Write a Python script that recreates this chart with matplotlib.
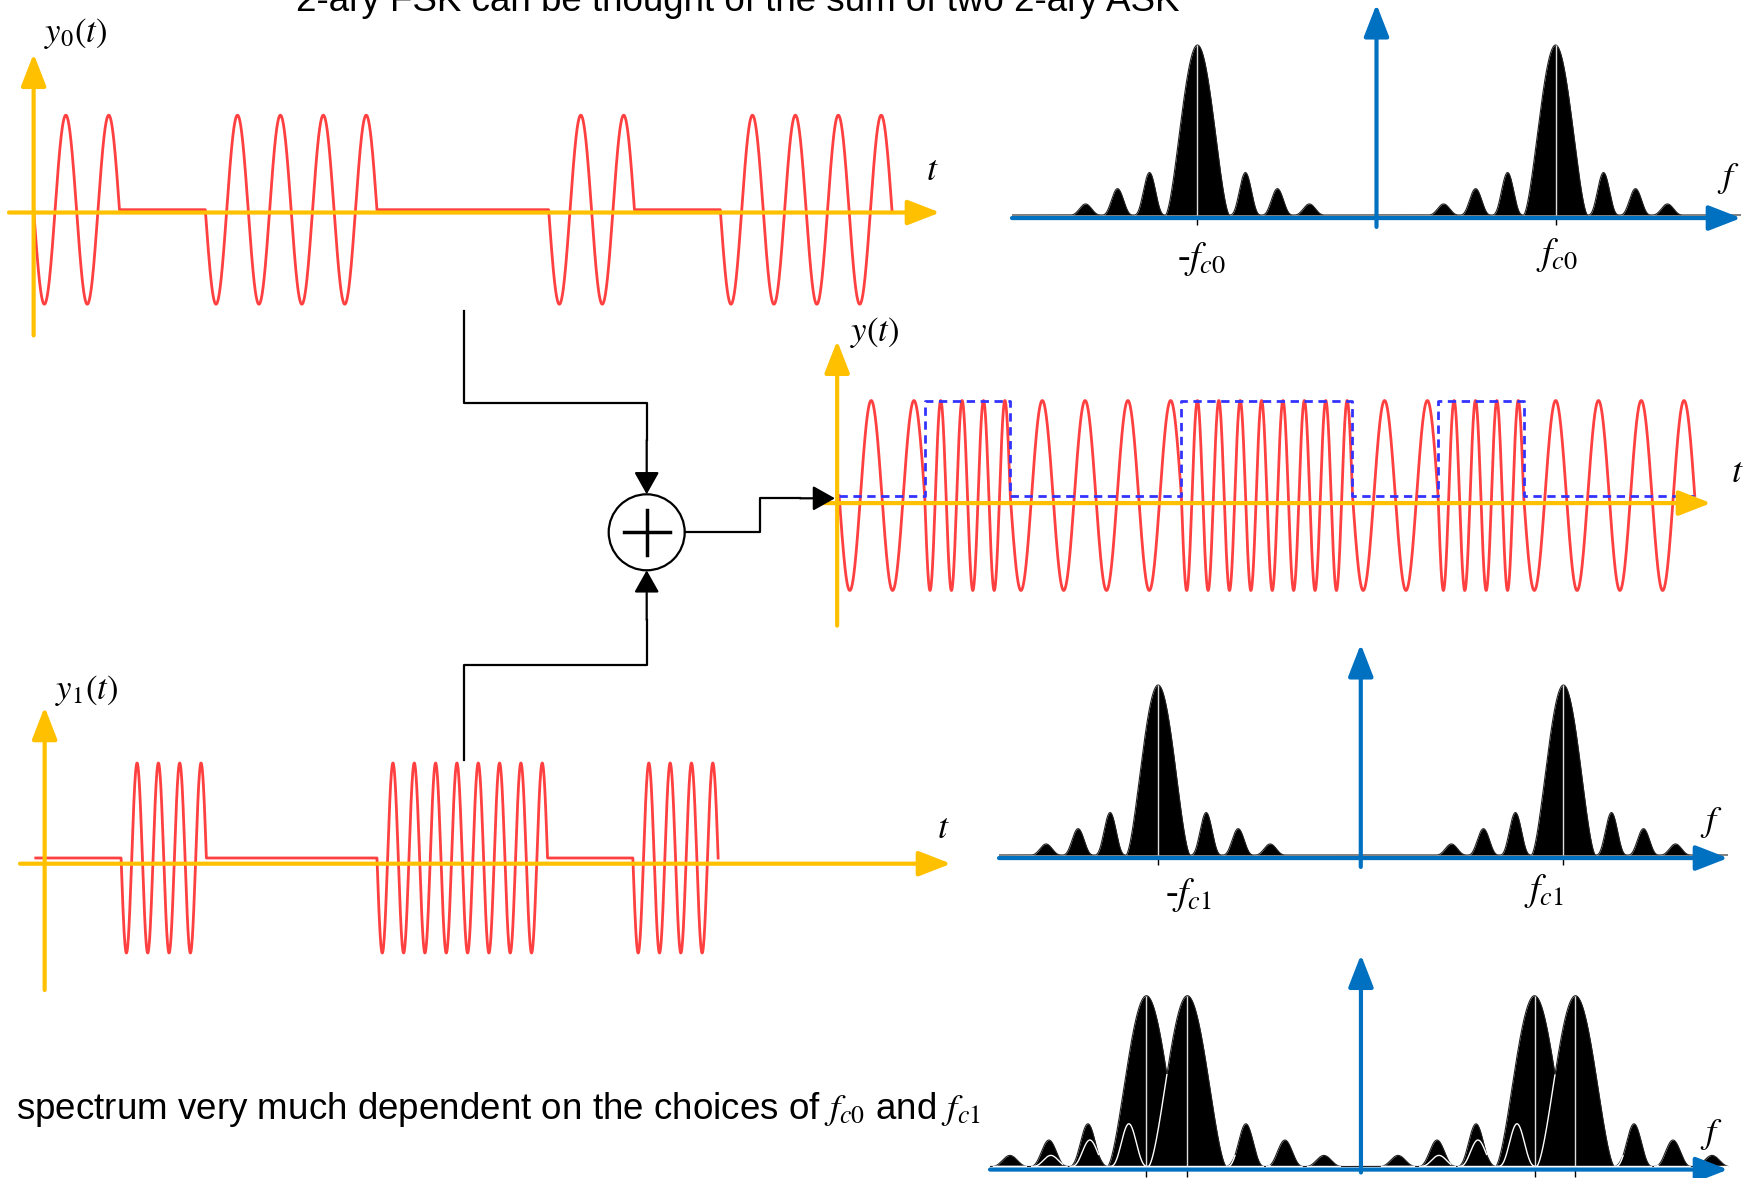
import numpy as np
import matplotlib
matplotlib.use('Agg')
import matplotlib.pyplot as plt
from matplotlib.patches import Circle

plt.rcParams['mathtext.fontset'] = 'stix'

W, H = 1754, 1178

# --- values ---
bits = [0, 1, 0, 0, 1, 1, 0, 1, 0, 0]        # data bits (blue dashed envelope of y(t))
cycles_f0 = 2                                # carrier cycles per bit at f_c0
cycles_f1 = 4                                # carrier cycles per bit at f_c1
lobe_heights = [1.0, 0.25, 0.155, 0.065]     # main lobe, then side lobes 1..3
fc_top = 5.6                                 # f_c0, in units of the bit rate
fc_mid = 6.33                                # f_c1
fc_bottom = [4.45, 5.5]                      # f_c0, f_c1 in the bottom (wider scale) plot

ORANGE = '#FFC000'
BLUE = '#0070C0'
RED = '#FF4040'
ENV = '#3333FF'
SANS = 'Liberation Sans'

fig = plt.figure(figsize=(W / 100, H / 100), dpi=100)


def px_text(x, y, s, **kw):
    fig.text(x / W, 1 - y / H, s, **kw)


def panel(box, xlim, ylim):
    l, t, r, b = box
    ax = fig.add_axes([l / W, 1 - b / H, (r - l) / W, (b - t) / H])
    ax.set_xlim(*xlim)
    ax.set_ylim(*ylim)
    ax.axis('off')
    return ax


def axis_arrows(ax, hx, hy, vx, vy, color):
    style = '-|>,head_length=0.9,head_width=0.35'
    for tip, tail in [((hx[1], hy), (hx[0], hy)), ((vx, vy[1]), (vx, vy[0]))]:
        ax.annotate('', xy=tip, xytext=tail, annotation_clip=False,
                    arrowprops=dict(arrowstyle=style, color=color, lw=3,
                                    mutation_scale=22, shrinkA=0, shrinkB=0),
                    zorder=5)


def spectrum(f, centers):
    s = np.zeros_like(f)
    for c in centers:
        u = f - c
        m = np.abs(u) < 1
        s[m] = np.maximum(s[m], lobe_heights[0] * np.cos(np.pi * u[m] / 2) ** 1.6)
        for k, h in enumerate(lobe_heights[1:], start=1):
            for sgn in (-1, 1):
                v = (u - sgn * (k + 0.5)) * 2
                m = np.abs(v) < 1
                s[m] = np.maximum(s[m], h * np.cos(np.pi * v[m] / 2) ** 3)
    return s


# --- time signals ---
n = len(bits)
t = np.linspace(0, n, n * 400 + 1)
b = np.array(bits)[np.minimum(t.astype(int), n - 1)]
y0 = np.where(b == 0, -np.sin(2 * np.pi * cycles_f0 * t), 0.0)
y1 = np.where(b == 1, -np.sin(2 * np.pi * cycles_f1 * t), 0.0)
y = y0 + y1
end0 = max(i for i, v in enumerate(bits) if v == 0) + 1
end1 = max(i for i, v in enumerate(bits) if v == 1) + 1

# y0(t)
ax = panel((9, 49, 940, 337.3), (-0.287, 10.56), (-1.35, 1.7))
m = t <= end0
ax.plot(t[m], y0[m], color=RED, lw=2)
axis_arrows(ax, (-0.287, 10.56), -0.03, 0, (-1.33, 1.65), ORANGE)

# y1(t)
ax = panel((20, 704.1, 951, 991), (-0.185, 10.73), (-1.4, 1.62))
m = t <= end1
ax.plot(t[m], y1[m], color=RED, lw=2)
axis_arrows(ax, (-0.185, 10.73), -0.06, 0.104, (-1.39, 1.59), ORANGE)

# y(t) with bit envelope
ax = panel((822, 338.75, 1711, 628.5), (-0.2, 10.19), (-1.4, 1.65))
ax.plot(t, y, color=RED, lw=2)
ax.step(np.arange(n + 1), bits + [bits[-1]], where='post', color=ENV,
        lw=2, ls=(0, (3, 2)), zorder=3)
axis_arrows(ax, (-0.2, 10.19), -0.08, -0.023, (-1.37, 1.63), ORANGE)


# --- spectra ---
def spec_panel(box, xlim, ylim, centers, white_centers=()):
    ax = panel(box, xlim, ylim)
    f = np.linspace(xlim[0], xlim[1], 6001)
    s = spectrum(f, centers)
    ax.fill_between(f, 0, s, color='black', lw=0, zorder=2)
    ax.plot(f, s, color='#222222', lw=0.8, zorder=2)
    for wc in white_centers:
        sw = spectrum(f, [wc])
        ax.plot(f, np.where(sw < s - 1e-3, sw, np.nan), color='white', lw=1, zorder=3)
    ax.vlines(centers, 0, lobe_heights[0], color='#dddddd', lw=1, zorder=3)
    ax.vlines(centers, -0.06, -0.02, color='black', lw=1, zorder=3)
    axis_arrows(ax, xlim, -0.018, 0, (ylim[0] + 0.03, ylim[1] - 0.01), BLUE)
    return ax


spec_panel((1012, 2.5, 1741, 232), (-11.4, 11.4), (-0.1, 1.25), [-fc_top, fc_top])
spec_panel((999, 642.5, 1728, 872), (-11.3, 11.47), (-0.1, 1.25), [-fc_mid, fc_mid])
spec_panel((990, 953, 1728, 1177.6), (-9.51, 9.41), (-0.065, 1.25),
           [-fc_bottom[1], -fc_bottom[0], fc_bottom[0], fc_bottom[1]],
           white_centers=[-fc_bottom[0], fc_bottom[1]])

# --- block diagram connectors ---
ov = fig.add_axes([0, 0, 1, 1])
ov.set_xlim(0, W)
ov.set_ylim(H, 0)
ov.axis('off')
cx, cy, r = 646.7, 532.3, 38
ov.add_patch(Circle((cx, cy), r, fill=False, ec='black', lw=1.6))
ov.plot([cx - 23, cx + 23], [cy, cy], color='black', lw=2.5)
ov.plot([cx, cx], [cy - 22.5, cy + 22.5], color='black', lw=2.5)
arrow_kw = dict(arrowstyle='-|>,head_length=0.8,head_width=0.45', color='black',
                lw=1.6, mutation_scale=17, shrinkA=0, shrinkB=0)
ov.plot([464, 464, cx, cx], [311, 402.7, 402.7, 440], color='black', lw=1.6)
ov.annotate('', xy=(cx, cy - r), xytext=(cx, 440), arrowprops=arrow_kw)
ov.plot([464, 464, cx, cx], [760, 665, 665, 620], color='black', lw=1.6)
ov.annotate('', xy=(cx, cy + r), xytext=(cx, 620), arrowprops=arrow_kw)
ov.plot([cx + r, 760, 760, 800], [cy, cy, 498.3, 498.3], color='black', lw=1.6)
ov.annotate('', xy=(835, 498.3), xytext=(800, 498.3), arrowprops=arrow_kw)

# --- labels ---
px_text(76, 33.5, r'$y_0(t)$', fontsize=25, ha='center', va='center')
px_text(875, 333, r'$y(t)$', fontsize=25, ha='center', va='center')
px_text(87, 691, r'$y_1(t)$', fontsize=25, ha='center', va='center')
for x, yy in [(932, 170), (1737, 472), (943, 828)]:
    px_text(x, yy, r'$t$', fontsize=26, ha='center', va='center')
for x, yy in [(1728, 179), (1711, 822), (1711, 1135)]:
    px_text(x, yy, r'$f$', fontsize=26, ha='center', va='center')
px_text(1202, 259.5, r'-$f_{c\mathit{0}}$', fontsize=27, ha='center', va='center', family='Liberation Serif')
px_text(1557, 255, r'$f_{c\mathit{0}}$', fontsize=27, ha='center', va='center')
px_text(1188, 895, r'-$f_{c\mathit{1}}$', fontsize=27, ha='center', va='center', family='Liberation Serif')
px_text(1544, 891.5, r'$f_{c\mathit{1}}$', fontsize=27, ha='center', va='center')

# title line is cut off at the top edge in the original slide
px_text(296, 11, '2-ary FSK can be thought of the sum of two 2-ary ASK',
        fontsize=26.5, family=SANS, va='baseline')
px_text(16, 1119, r'spectrum very much dependent on the choices of $f_{c\mathit{0}}$ and $f_{c\mathit{1}}$',
        fontsize=26.5, family=SANS, va='baseline')

fig.savefig('out.png', dpi=100)
